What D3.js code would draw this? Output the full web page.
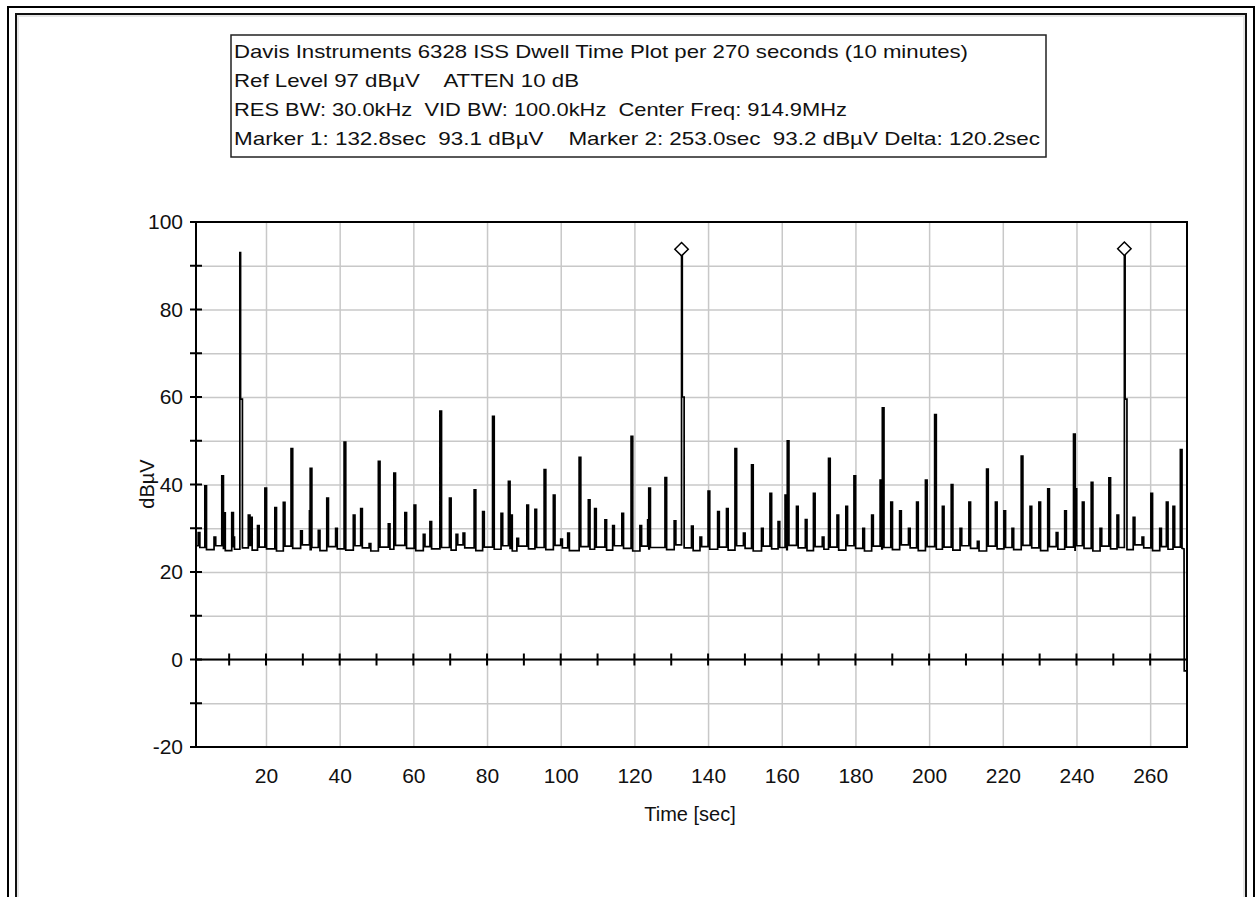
<!DOCTYPE html>
<html>
<head>
<meta charset="utf-8">
<script src="https://cdn.jsdelivr.net/npm/d3@7/dist/d3.min.js"></script>
<style>
body{margin:0;background:#fff;}
svg text{font-family:"Liberation Sans",Arial,sans-serif;fill:#111;white-space:pre;}
</style>
</head>
<body>
<script>
var w = 1260;
var h = 897;

var titleLines = [
  "Davis Instruments 6328 ISS Dwell Time Plot per 270 seconds (10 minutes)",
  "Ref Level 97 dB\u00b5V    ATTEN 10 dB",
  "RES BW: 30.0kHz  VID BW: 100.0kHz  Center Freq: 914.9MHz",
  "Marker 1: 132.8sec  93.1 dB\u00b5V    Marker 2: 253.0sec  93.2 dB\u00b5V Delta: 120.2sec"
];
var titleWidths = [734, 345, 613, 806];

var yTicks = [-20, 0, 20, 40, 60, 80, 100];
var xTicks = [20, 40, 60, 80, 100, 120, 140, 160, 180, 200, 220, 240, 260];

var spikeTimes = [
  1.6, 3.4, 5.9, 8.0, 8.5, 10.7, 11.0, 12.9, 15.2, 15.8,
  17.7, 19.7, 22.4, 24.7, 26.8, 29.4, 31.8, 32.0, 34.2, 36.5,
  38.9, 41.2, 43.7, 45.7, 48.0, 50.5, 53.2, 54.7, 57.7, 60.2,
  62.7, 64.5, 67.2, 69.8, 71.6, 73.5, 76.5, 78.8, 81.5, 83.8,
  85.8, 86.4, 88.1, 90.8, 93.0, 95.5, 98.0, 100.0, 101.9, 105.0,
  107.5, 109.2, 112.0, 114.1, 116.6, 119.1, 121.5, 123.6, 123.9, 128.3,
  130.8, 132.8, 135.5, 137.8, 140.0, 142.6, 145.0, 147.3, 149.6, 151.8,
  154.5, 156.8, 159.0, 160.9, 161.5, 164.0, 166.4, 168.6, 171.0, 172.7,
  175.0, 177.4, 179.6, 182.0, 184.4, 186.7, 187.3, 189.6, 192.0, 194.4,
  196.6, 199.0, 201.5, 203.6, 206.0, 208.4, 210.8, 213.1, 215.6, 218.0,
  220.3, 222.5, 225.0, 227.4, 229.8, 232.2, 234.5, 236.8, 239.2, 239.6,
  241.6, 244.0, 246.4, 248.8, 251.0, 253.0, 255.4, 257.8, 260.2, 262.6,
  264.4, 266.2, 268.2
];
var spikePeaks = [
  29, 39.7, 28, 42, 33.5, 33.6, 28, 93, 33, 32.5,
  30.6, 39.2, 34.7, 35.9, 48.2, 29.4, 34, 43.7, 29.5, 36.9,
  30, 49.7, 33, 34.5, 26.5, 45.3, 31, 42.6, 33.6, 35.3,
  28.6, 31.5, 56.8, 36.9, 28.6, 28.9, 38.8, 33.8, 55.6, 33.4,
  40.7, 33, 27.7, 35.3, 34.3, 43.4, 37.6, 27.5, 28.9, 46.2,
  36.5, 34.5, 31.9, 30.6, 33.4, 51, 30.6, 31.9, 39.2, 41.6,
  31.7, 93.1, 30.5, 28, 38.5, 33.8, 34.5, 48.2, 28.9, 44.5,
  30, 38, 31.5, 37.6, 50, 35, 32, 38, 28, 46,
  33, 35, 42, 30, 33, 41, 57.5, 36, 34, 30,
  36, 41, 56, 35, 40, 30, 36, 27, 43.5, 36,
  34, 30, 46.5, 35, 36, 39, 29, 34, 51.5, 39,
  36, 40.5, 30, 41.5, 33, 93.2, 32.5, 28, 38, 30,
  36, 35, 48
];
var spikeFloors = [
  25.6, 25.1, 26.0, 25.4, 24.9, 25.8, 25.2, 25.5, 26.1, 25.0,
  25.7, 25.3, 24.8, 25.9, 25.4, 26.2, 25.1, 25.6, 24.9, 25.8,
  25.3, 25.0, 26.0, 25.5, 24.8, 25.7, 25.2, 26.1, 25.4, 24.9,
  25.8, 25.3, 25.6, 25.0, 26.2, 25.5, 24.9, 25.7, 25.2, 26.0,
  25.4, 24.8, 25.9, 25.3, 25.6, 25.1, 26.1, 25.5, 24.9, 25.8,
  25.2, 25.7, 25.0, 26.0, 25.4, 24.8, 25.9, 25.3, 25.6, 25.1,
  26.2, 25.5, 24.9, 25.8, 25.2, 25.7, 25.0, 26.0, 25.4, 24.8,
  25.9, 25.3, 25.6, 25.1, 26.1, 25.5, 24.9, 25.8, 25.2, 25.7,
  25.0, 26.0, 25.4, 24.8, 25.9, 25.3, 25.6, 25.1, 26.2, 25.5,
  24.9, 25.8, 25.2, 25.7, 25.0, 26.0, 25.4, 24.8, 25.9, 25.3,
  25.6, 25.1, 26.1, 25.5, 24.9, 25.8, 25.2, 25.7, 25.0, 26.0,
  25.4, 24.8, 25.9, 25.3, 25.6, 25.1, 26.2, 25.5, 24.9, 25.8,
  25.2, 25.7, 25.4
];
var shoulderTimes = [12.9, 132.8, 253.0];
var shoulderValues = [59.5, 60, 59.5];
var endTimes = [269.2, 269.25, 270];
var endValues = [25.3, -2.6, -2.6];
var markerTimes = [132.8, 253.0];
var markerValues = [93.1, 93.2];

var svg = d3.select("body").append("svg").attr("width", w).attr("height", h);

// page frame
svg.append("rect").attr("x", 8).attr("y", 7).attr("width", 1246).attr("height", 900)
  .attr("fill", "none").attr("stroke", "#000").attr("stroke-width", 2);
svg.append("rect").attr("x", 16).attr("y", 14).attr("width", 1230).attr("height", 900)
  .attr("fill", "none").attr("stroke", "#111").attr("stroke-width", 2);
svg.append("rect").attr("x", 18).attr("y", 16).attr("width", 1226).attr("height", 900)
  .attr("fill", "none").attr("stroke", "#e6e6e6").attr("stroke-width", 2);

// title box
svg.append("rect").attr("x", 231).attr("y", 35).attr("width", 815).attr("height", 122)
  .attr("fill", "#fff").attr("stroke", "#222").attr("stroke-width", 1.5);
svg.selectAll("text.title").data(titleLines).enter().append("text")
  .attr("class", "title")
  .attr("x", 234)
  .attr("y", function(d, i){ return 58 + i * 29; })
  .attr("font-size", 19)
  .attr("textLength", function(d, i){ return titleWidths[i]; })
  .attr("lengthAdjust", "spacingAndGlyphs")
  .text(function(d){ return d; });

var pLeft = 196, pRight = 1187, pTop = 222, pBottom = 747;
var x = d3.scaleLinear().domain([1, 270]).range([pLeft, pRight]);
var y = d3.scaleLinear().domain([-20, 100]).range([pBottom, pTop]);

// grid
var gy = svg.append("g").attr("transform", "translate(" + pLeft + ",0)")
  .call(d3.axisLeft(y).tickValues(d3.range(-10, 100, 10)).tickSize(-(pRight - pLeft)).tickFormat(""));
gy.select(".domain").remove();
gy.selectAll("line").attr("stroke", "#c8c8c8").attr("stroke-width", 1.5);

var gx = svg.append("g").attr("transform", "translate(0," + pBottom + ")")
  .call(d3.axisBottom(x).tickValues(xTicks).tickSize(-(pBottom - pTop)).tickFormat(""));
gx.select(".domain").remove();
gx.selectAll("line").attr("stroke", "#c8c8c8").attr("stroke-width", 1.5);

// zero line with ticks
svg.append("line").attr("x1", pLeft).attr("x2", pRight).attr("y1", y(0)).attr("y2", y(0))
  .attr("stroke", "#000").attr("stroke-width", 2.2);
svg.selectAll("line.zt").data(d3.range(10, 270, 10)).enter().append("line")
  .attr("class", "zt")
  .attr("x1", function(d){ return x(d); }).attr("x2", function(d){ return x(d); })
  .attr("y1", y(0) - 6).attr("y2", y(0) + 6)
  .attr("stroke", "#000").attr("stroke-width", 2);

// trace
var pts = [[1, 26]];
var eps = 0.45;
spikeTimes.forEach(function(t, i){
  var prev = pts[pts.length - 1][1];
  pts.push([t, prev]);
  pts.push([t, spikePeaks[i]]);
  var k = shoulderTimes.indexOf(t);
  if (k >= 0) {
    pts.push([t + 0.2, spikePeaks[i]]);
    pts.push([t + 0.2, shoulderValues[k]]);
    pts.push([t + 0.7, shoulderValues[k]]);
    pts.push([t + 0.7, spikeFloors[i]]);
  } else {
    pts.push([t + eps, spikePeaks[i]]);
    pts.push([t + eps, spikeFloors[i]]);
  }
});
endTimes.forEach(function(t, i){ pts.push([t, endValues[i]]); });

var line = d3.line().x(function(d){ return x(d[0]); }).y(function(d){ return y(d[1]); });
svg.append("path").datum(pts).attr("d", line)
  .attr("fill", "none").attr("stroke", "#000").attr("stroke-width", 1.7)
  .attr("stroke-linejoin", "miter");

// markers
svg.selectAll("path.mk").data(markerTimes).enter().append("path")
  .attr("class", "mk")
  .attr("d", d3.symbol().type(d3.symbolDiamond2).size(115))
  .attr("transform", function(d, i){ return "translate(" + x(d) + "," + (y(markerValues[i]) - 3) + ")"; })
  .attr("fill", "#fff").attr("stroke", "#000").attr("stroke-width", 1.5);

// plot frame
svg.append("rect").attr("x", pLeft).attr("y", pTop).attr("width", pRight - pLeft).attr("height", pBottom - pTop)
  .attr("fill", "none").attr("stroke", "#000").attr("stroke-width", 2);

// y ticks crossing the axis
svg.selectAll("line.yt").data(d3.range(-20, 101, 10)).enter().append("line")
  .attr("class", "yt")
  .attr("x1", pLeft - 6).attr("x2", pLeft + 6)
  .attr("y1", function(d){ return y(d); }).attr("y2", function(d){ return y(d); })
  .attr("stroke", "#000").attr("stroke-width", 2);

// axis labels
var ay = svg.append("g").attr("transform", "translate(" + pLeft + ",0)")
  .call(d3.axisLeft(y).tickValues(yTicks).tickSize(0).tickPadding(13)
    .tickFormat(function(d){ return String(d); }));
ay.select(".domain").remove();
ay.selectAll("text").attr("font-size", 21).attr("font-family", "Liberation Sans, Arial, sans-serif").attr("fill", "#111");

var ax = svg.append("g").attr("transform", "translate(0," + pBottom + ")")
  .call(d3.axisBottom(x).tickValues(xTicks).tickSize(0).tickPadding(21));
ax.select(".domain").remove();
ax.selectAll("text").attr("font-size", 21).attr("font-family", "Liberation Sans, Arial, sans-serif").attr("fill", "#111");

svg.append("text").attr("x", 690).attr("y", 821).attr("text-anchor", "middle")
  .attr("font-size", 20).text("Time [sec]");
svg.append("text").attr("transform", "translate(154,484) rotate(-90)").attr("text-anchor", "middle")
  .attr("font-size", 20).text("dB\u00b5V");
</script>
</body>
</html>
